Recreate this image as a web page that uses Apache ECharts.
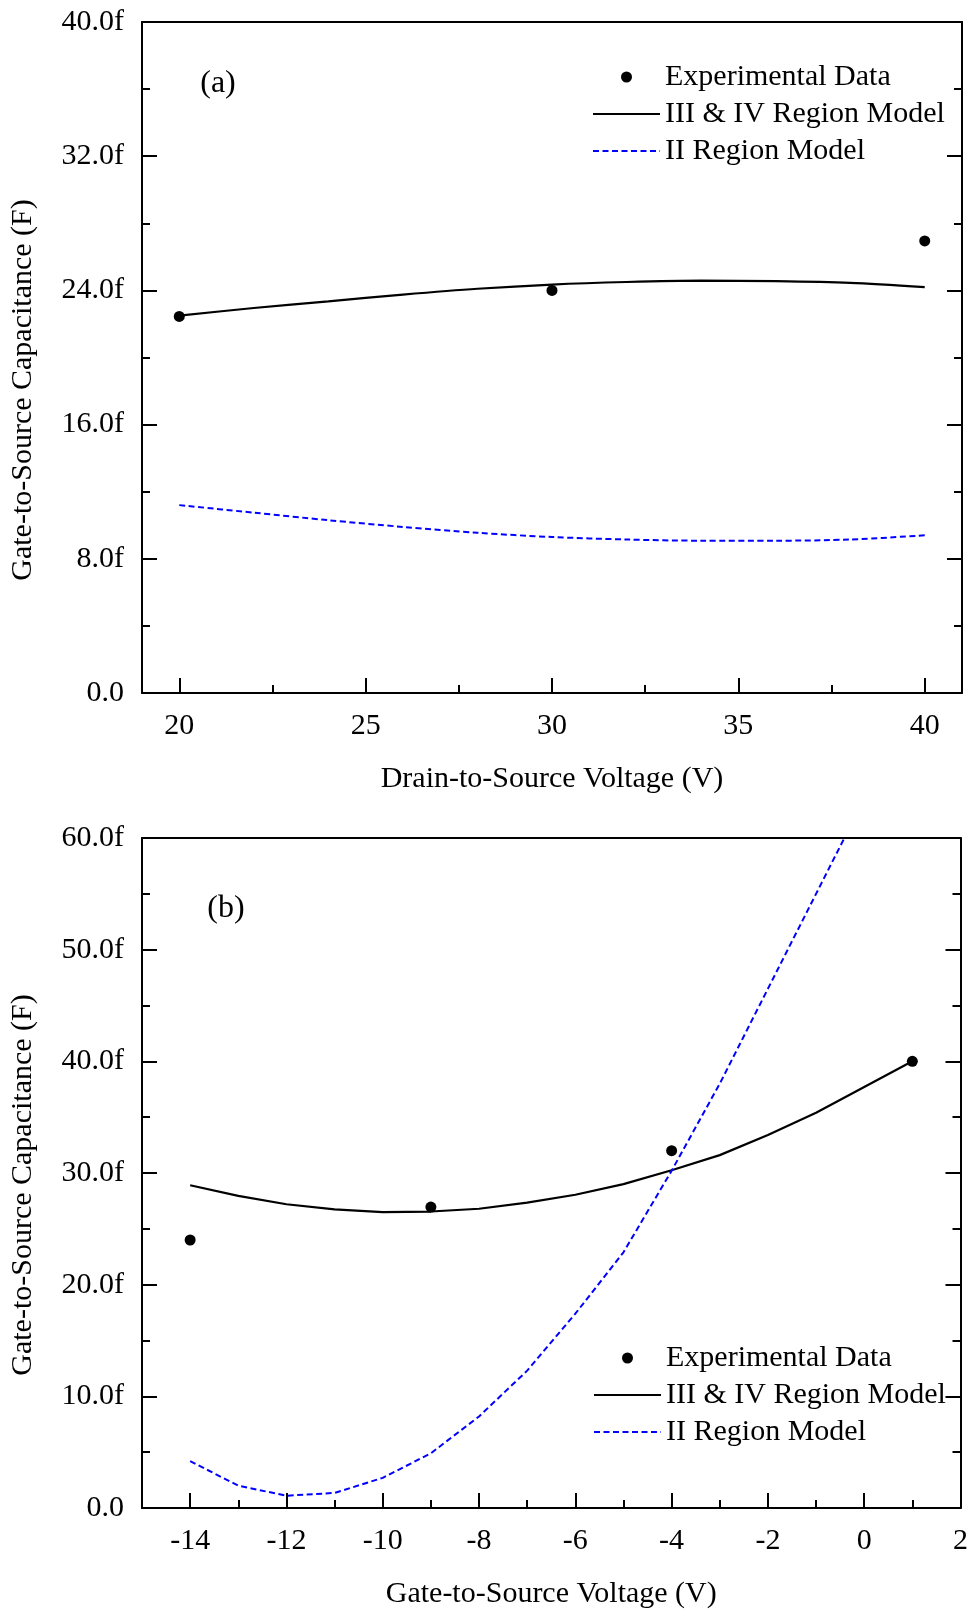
<!DOCTYPE html>
<html>
<head>
<meta charset="utf-8">
<script src="https://cdn.jsdelivr.net/npm/echarts@6/dist/echarts.min.js"></script>
<style>
html,body{margin:0;padding:0;background:#fff;}
#chart{width:971px;height:1614px;}
</style>
</head>
<body>
<div id="chart"></div>
<script>
// ---------- Panel (a) data ----------
const vdsExp = [20, 30, 40];
const cgsExpA = [22.45, 24.0, 26.95];
const vdsModel = [20, 22, 24, 26, 28, 30, 32, 34, 36, 38, 40];
const cgsRegion34A = [22.5, 22.95, 23.35, 23.75, 24.1, 24.35, 24.5, 24.58, 24.55, 24.45, 24.2];
const cgsRegion2A = [11.2, 10.75, 10.3, 9.9, 9.55, 9.3, 9.15, 9.08, 9.08, 9.15, 9.4];
const xTicksA = [20, 25, 30, 35, 40];
const xMinorA = [22.5, 27.5, 32.5, 37.5];
const yTickLabelsA = ['0.0', '8.0f', '16.0f', '24.0f', '32.0f', '40.0f'];

// ---------- Panel (b) data ----------
const vgsExp = [-14, -9, -4, 1];
const cgsExpB = [24.0, 26.95, 32.0, 40.0];
const vgsModel = [-14, -13, -12, -11, -10, -9, -8, -7, -6, -5, -4, -3, -2, -1, 0, 1];
const cgsRegion34B = [28.9, 27.95, 27.2, 26.75, 26.5, 26.55, 26.8, 27.35, 28.05, 29.0, 30.25, 31.6, 33.4, 35.4, 37.7, 40.0];
const vgsRegion2 = [-14, -13, -12, -11, -10, -9, -8, -7, -6, -5, -4, -3, -2, -1, 0];
const cgsRegion2B = [4.2, 2.0, 1.1, 1.35, 2.7, 4.9, 8.2, 12.3, 17.4, 22.9, 30.2, 38.0, 46.5, 55.0, 63.5];
const xTicksB = [-14, -12, -10, -8, -6, -4, -2, 0, 2];
const xMinorB = [-13, -11, -9, -7, -5, -3, -1, 1];
const yTickLabelsB = ['0.0', '10.0f', '20.0f', '30.0f', '40.0f', '50.0f', '60.0f'];

const FONT = "'Liberation Serif', 'Times New Roman', serif";
const BLUE = '#0000ff';

function pairs(xs, ys) { return xs.map((x, i) => [x, ys[i]]); }

const axisLineStyle = { show: true, onZero: false, lineStyle: { color: '#000', width: 2 } };
const labelStyle = { color: '#000', fontSize: 30, fontFamily: FONT };

function xAxes(gridIndex, min, max, majors, minors, name) {
  return [
    { type: 'value', gridIndex, position: 'bottom', min, max,
      axisLine: axisLineStyle, splitLine: { show: false },
      axisTick: { show: true, inside: true, length: 15, customValues: majors, lineStyle: { color: '#000', width: 2 } },
      axisLabel: Object.assign({ customValues: majors, margin: 18 }, labelStyle),
      name, nameLocation: 'middle', nameGap: 71, nameTextStyle: labelStyle },
    { type: 'value', gridIndex, position: 'bottom', min, max,
      axisLine: { show: false }, splitLine: { show: false },
      axisTick: { show: true, inside: true, length: 8, customValues: minors, lineStyle: { color: '#000', width: 2 } },
      axisLabel: { show: false } },
    { type: 'value', gridIndex, position: 'top', min, max,
      axisLine: axisLineStyle, splitLine: { show: false },
      axisTick: { show: false }, axisLabel: { show: false } }
  ];
}

function yAxes(gridIndex, max, interval, labels) {
  const common = { type: 'value', gridIndex, min: 0, max, interval,
    axisLine: axisLineStyle, splitLine: { show: false },
    axisTick: { show: true, inside: true, length: 15, lineStyle: { color: '#000', width: 2 } },
    minorTick: { show: true, splitNumber: 2, length: 8, lineStyle: { color: '#000', width: 2 } },
    minorSplitLine: { show: false } };
  return [
    Object.assign({}, common, { position: 'left',
      axisLabel: Object.assign({ margin: 18, formatter: v => labels[Math.round(v / interval)] }, labelStyle) }),
    Object.assign({}, common, { position: 'right', axisLabel: { show: false } })
  ];
}

const hiddenSymbol = { color: 'rgba(0,0,0,0)', opacity: 0, borderWidth: 0 };
const legendCommon = {
  orient: 'vertical', itemWidth: 67, itemHeight: 11, itemGap: 7,
  textStyle: { color: '#000', fontSize: 30, fontFamily: FONT, lineHeight: 30 },
  data: [
    { name: 'Experimental Data', itemStyle: { color: '#000', opacity: 1 } },
    { name: 'III & IV Region Model', itemStyle: hiddenSymbol },
    { name: 'II Region Model', itemStyle: hiddenSymbol }
  ],
  selectedMode: false
};

const option = {
  backgroundColor: '#fff',
  animation: false,
  textStyle: { fontFamily: FONT },
  grid: [
    { left: 142, top: 22, width: 820, height: 671 },
    { left: 142, top: 838, width: 820, height: 670 }
  ],
  xAxis: [].concat(
    xAxes(0, 19, 41, xTicksA, xMinorA, 'Drain-to-Source Voltage (V)'),
    xAxes(1, -15, 2, xTicksB, xMinorB, 'Gate-to-Source Voltage (V)')
  ),
  yAxis: [].concat(
    yAxes(0, 40, 8, yTickLabelsA),
    yAxes(1, 60, 10, yTickLabelsB)
  ),
  legend: [
    Object.assign({ left: 587, top: 57 }, legendCommon),
    Object.assign({ left: 588, top: 1338 }, legendCommon)
  ],
  graphic: [
    { type: 'text', x: 23, y: 390, rotation: Math.PI / 2,
      style: { text: 'Gate-to-Source Capacitance (F)', font: '30px ' + FONT, fill: '#000', textAlign: 'center', textVerticalAlign: 'middle' } },
    { type: 'text', x: 23, y: 1185, rotation: Math.PI / 2,
      style: { text: 'Gate-to-Source Capacitance (F)', font: '30px ' + FONT, fill: '#000', textAlign: 'center', textVerticalAlign: 'middle' } },
    { type: 'text', x: 218, y: 84,
      style: { text: '(a)', font: '32px ' + FONT, fill: '#000', textAlign: 'center', textVerticalAlign: 'middle' } },
    { type: 'text', x: 226, y: 909,
      style: { text: '(b)', font: '32px ' + FONT, fill: '#000', textAlign: 'center', textVerticalAlign: 'middle' } }
  ],
  series: [
    { name: 'III & IV Region Model', type: 'line', xAxisIndex: 0, yAxisIndex: 0,
      data: pairs(vdsModel, cgsRegion34A), smooth: 0.3, symbol: 'none',
      lineStyle: { color: '#000', width: 2.2 }, itemStyle: { color: '#000' } },
    { name: 'II Region Model', type: 'line', xAxisIndex: 0, yAxisIndex: 0,
      data: pairs(vdsModel, cgsRegion2A), smooth: 0.3, symbol: 'none',
      lineStyle: { color: BLUE, width: 2, type: [6, 3.5] }, itemStyle: { color: BLUE } },
    { name: 'Experimental Data', type: 'scatter', xAxisIndex: 0, yAxisIndex: 0,
      data: pairs(vdsExp, cgsExpA), symbol: 'circle', symbolSize: 11, itemStyle: { color: '#000', opacity: 1 } },

    { name: 'III & IV Region Model', type: 'line', xAxisIndex: 3, yAxisIndex: 2,
      data: pairs(vgsModel, cgsRegion34B), smooth: false, symbol: 'none',
      lineStyle: { color: '#000', width: 2.2 }, itemStyle: { color: '#000' } },
    { name: 'II Region Model', type: 'line', xAxisIndex: 3, yAxisIndex: 2,
      data: pairs(vgsRegion2, cgsRegion2B), smooth: false, symbol: 'none', clip: true,
      lineStyle: { color: BLUE, width: 2, type: [6, 3.5] }, itemStyle: { color: BLUE } },
    { name: 'Experimental Data', type: 'scatter', xAxisIndex: 3, yAxisIndex: 2,
      data: pairs(vgsExp, cgsExpB), symbol: 'circle', symbolSize: 11, itemStyle: { color: '#000', opacity: 1 } }
  ]
};

const chart = echarts.init(document.getElementById('chart'), null, { renderer: 'canvas' });
chart.setOption(option);
</script>
</body>
</html>
